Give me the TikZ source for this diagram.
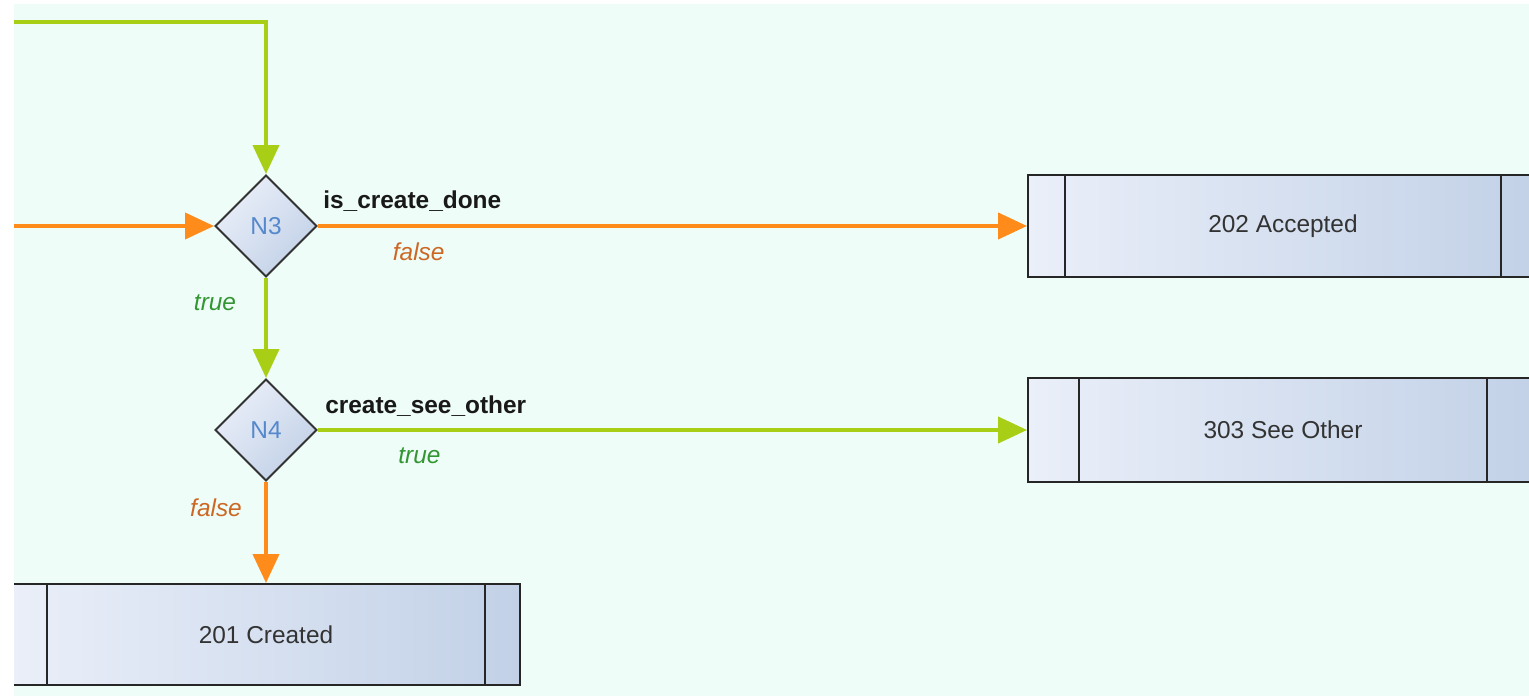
\documentclass[tikz,border=0pt]{standalone}
\usepackage{fontspec}
\setmainfont{Liberation Sans}
\usetikzlibrary{shapes.geometric,arrows.meta,calc}
\definecolor{bgmint}{RGB}{238,253,247}
\definecolor{flowgreen}{RGB}{168,206,22}
\definecolor{floworange}{RGB}{255,140,26}
\definecolor{truegreen}{RGB}{51,150,51}
\definecolor{falseorange}{RGB}{204,104,36}
\definecolor{nodeblue}{RGB}{85,136,204}
\definecolor{boxlight}{RGB}{234,239,249}
\definecolor{boxdark}{RGB}{194,209,231}

\begin{document}
\begin{tikzpicture}[x=0.02cm, y=-0.02cm,
	every node/.style={font=\fontsize{13.9pt}{16pt}\selectfont},
	decision/.style={diamond, aspect=1, minimum size=2.04cm, inner sep=0pt, draw=black!80, line width=0.04cm, top color=boxlight, bottom color=boxdark, shading angle=45, text=nodeblue},
	status/.style={rectangle, minimum width=10.2cm, minimum height=2.04cm, inner sep=0pt, draw=black!85, line width=0.04cm, left color=boxlight, right color=boxdark, text=black!80},
	gline/.style={draw=flowgreen, line width=0.08cm, -{Triangle[length=0.58cm,width=0.52cm]}},
	oline/.style={draw=floworange, line width=0.08cm, -{Triangle[length=0.58cm,width=0.52cm]}},
	cond/.style={font=\fontsize{13.9pt}{16pt}\selectfont\bfseries, text=black!90},
	yes/.style={font=\fontsize{13.9pt}{16pt}\selectfont\itshape, text=truegreen},
	no/.style={font=\fontsize{13.9pt}{16pt}\selectfont\itshape, text=falseorange}]
		\useasboundingbox (0,0) rectangle (1529,696);
		\fill[white] (0,0) rectangle (1529,696);
		\clip (14,4) rectangle (1529,696);
		\fill[bgmint] (14,4) rectangle (1529,696);
		% decisions
		\node[decision] (N3) at (266,226) {N3};
		\node[decision] (N4) at (266,430) {N4};
		% responses
		\node[status] (acc) at (1283,226) {\raisebox{-0.06cm}{202 Accepted}};
		\node[status, minimum height=2.08cm] (see) at (1283,430) {303 See Other};
		\node[status, minimum width=10.18cm, minimum height=2.02cm] (crt) at (266,634.5) {201 Created};
		\foreach \b/\d in {acc/0.76cm, see/1.04cm, crt/0.72cm}
		{
			\draw[black!85, line width=0.04cm] ([xshift=\d]\b.north west) -- ([xshift=\d]\b.south west);
			\draw[black!85, line width=0.04cm] ([xshift=-\d]\b.north east) -- ([xshift=-\d]\b.south east);
		}
		% incoming flows
		\coordinate (inTop) at (0,22);
		\coordinate (inLeft) at (0,226);
		\draw[gline] (inTop) -| (N3.north);
		\draw[oline] (inLeft) -- (N3.west);
		% N3
		\draw[oline] (N3.east) -- (acc.west)
			node[cond, pos=0.133, yshift=0.5cm] (c3) {is\_create\_done}
			node[no, pos=0.142, yshift=-0.52cm] (f3) {false};
		\draw[gline] (N3.south) -- (N4.north)
			node[yes, pos=0.25, xshift=-1.02cm] (t3) {true};
		% N4
		\draw[gline] (N4.east) -- (see.west)
			node[cond, pos=0.152, yshift=0.48cm] (c4) {create\_see\_other}
			node[yes, pos=0.143, yshift=-0.52cm] (t4) {true};
		\draw[oline] (N4.south) -- (crt.north)
			node[no, pos=0.26, xshift=-1.0cm] (f4) {false};
\end{tikzpicture}
\end{document}
